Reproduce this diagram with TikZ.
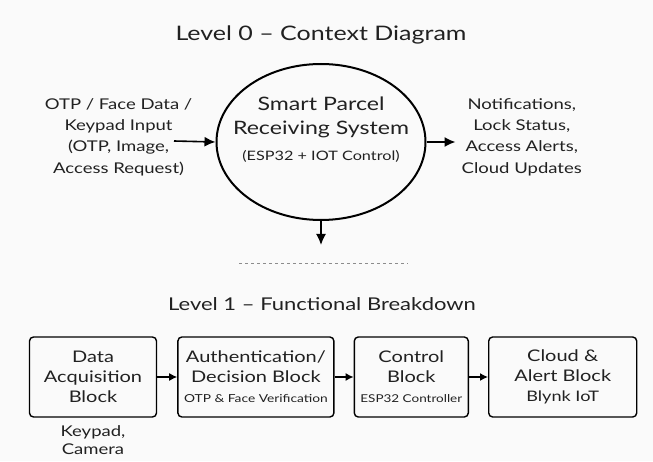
\documentclass[tikz,border=0pt]{standalone}
\usepackage{fontspec}
\setmainfont{Lato}[FakeStretch=1.25]
\usetikzlibrary{arrows.meta, positioning, shapes.geometric}

\begin{document}
\begin{tikzpicture}[x=1pt, y=1pt,
    every node/.style={text=black!87, align=center, inner sep=0pt},
    flow/.style={-{Latex[length=11pt, width=10pt]}, line width=1.6pt},
    small flow/.style={-{Latex[length=8pt, width=8pt]}, line width=1.4pt},
    block/.style={draw, line width=1.4pt, rounded corners=4pt, minimum height=80pt,
        font=\fontsize{16}{20}\selectfont},
    side text/.style={font=\fontsize{14.8}{21.3}\selectfont}]
    \useasboundingbox[fill=black!2] (0,0) rectangle (653,461);

    % level 0
    \node (sys) [ellipse, draw, line width=2pt, minimum width=209pt, minimum height=156pt] at (321,319) {};
    \node (syslabel) at ([yshift=12pt]sys.center) [font=\fontsize{18.5}{24}\selectfont] {Smart Parcel\\Receiving System\\[2pt]
        \fontsize{13}{15}\selectfont (ESP32 + IOT Control)};
    \node (title0) [above=19pt of sys, font=\fontsize{20}{24}\selectfont] {Level 0 – Context Diagram};

    \node (inputs) [left=23pt of sys, yshift=5pt, side text] {OTP / Face Data /\\Keypad Input\\(OTP, Image,\\Access Request)};
    \node (outputs) [right=35pt of sys, yshift=5pt, side text] {Notifications,\\Lock Status,\\Access Alerts,\\Cloud Updates};

    \coordinate (inarr) at (174,320);
    \coordinate (drop) at (321,216);
    \draw[flow] (inarr) -- (sys.west);
    \draw[flow, shorten >=6pt] (sys.east) -- (outputs.west |- sys.east);
    \draw[flow] (sys.south) -- (drop);

    \coordinate (sepL) at (239,198);
    \coordinate (sepR) at (408,198);
    \draw[black!45, line width=0.8pt, dash pattern=on 3pt off 3pt] (sepL) -- (sepR);

    % level 1
    \node (title1) at (322,157) {\fontsize{17.6}{22}\selectfont Level 1 – Functional Breakdown};

    \node (acq) [block, minimum width=127pt] at (93,84) {Data\\Acquisition\\Block};
    \node (auth) [block, minimum width=156pt, right=20pt of acq] {Authentication/\\Decision Block\\
        \fontsize{11}{18}\selectfont OTP \& Face Verification};
    \node (ctrl) [block, minimum width=114pt, right=19pt of auth] {Control\\Block\\
        \fontsize{10.8}{19}\selectfont ESP32 Controller};
    \node (cloud) [block, minimum width=148pt, right=19pt of ctrl] {Cloud \&\\Alert Block\\
        \fontsize{14.5}{21}\selectfont Blynk IoT};

    \node (devices) [below=8pt of acq, font=\fontsize{14.8}{18}\selectfont] {Keypad,\\Camera};

    \draw[small flow] (acq) -- (auth);
    \draw[small flow] (auth) -- (ctrl);
    \draw[small flow] (ctrl) -- (cloud);
\end{tikzpicture}
\end{document}
